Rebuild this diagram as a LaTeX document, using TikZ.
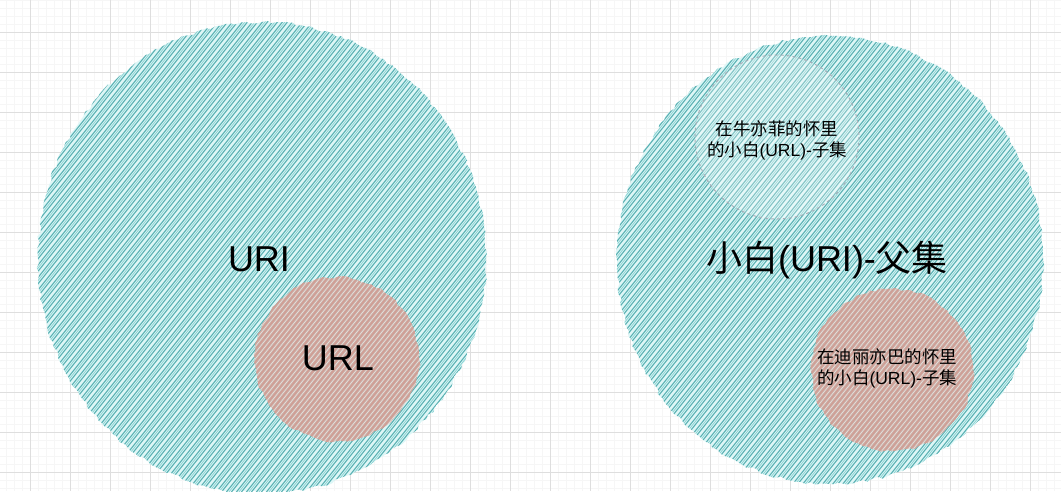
\documentclass[tikz,border=0pt]{standalone}
\usepackage{fontspec}
\usetikzlibrary{decorations.pathmorphing}
\setmainfont{Liberation Sans}
\newfontfamily\cjk{Noto Sans CJK SC}
\definecolor{gridmajor}{RGB}{222,222,222}
\definecolor{gridminor}{RGB}{246,246,246}
\definecolor{tealbg}{RGB}{222,247,247}
\definecolor{teallineA}{RGB}{88,176,178}
\definecolor{teallineB}{RGB}{140,212,212}
\definecolor{redbg}{RGB}{200,174,166}
\definecolor{redlineA}{RGB}{214,152,142}
\definecolor{redlineB}{RGB}{238,228,225}
\definecolor{dashgray}{RGB}{170,176,186}
\tikzset{
  bigtext/.style={font=\fontsize{36}{40}\selectfont, inner sep=0pt},
  smalltext/.style={font=\fontsize{17.5}{21}\selectfont, align=center, inner sep=0pt},
  rough/.style={decorate, decoration={random steps, segment length=5pt, amplitude=1.5pt}},
}
\pgfmathsetseed{7}
\begin{document}
\begin{tikzpicture}[x=1pt,y=-1pt]
\useasboundingbox (0,0) rectangle (1061,491);
\fill[white] (0,0) rectangle (1061,491);
% grid
\foreach \gx in {-2,6,...,1061} \draw[gridminor,line width=0.6pt] (\gx,0) -- (\gx,491);
\foreach \gy in {0,8,...,491} \draw[gridminor,line width=0.6pt] (0,\gy) -- (1061,\gy);
\foreach \gx in {30,70,...,1061} \draw[gridmajor,line width=0.8pt] (\gx,0) -- (\gx,491);
\foreach \gy in {32,72,...,491} \draw[gridmajor,line width=0.8pt] (0,\gy) -- (1061,\gy);

% left big blob
\begin{scope}
  \clip[rough] (262,258) ellipse [x radius=224, y radius=236];
  \fill[tealbg] (30,0) rectangle (500,491);
  \foreach \i in {30,35,...,900} \draw[teallineA,line width=1.1pt] (\i-400,500) -- (\i,0);
  \foreach \i in {32.5,42.5,...,900} \draw[teallineB,line width=0.8pt] (\i-400,500) -- (\i,0);
\end{scope}
% right big blob
\begin{scope}
  \clip[rough] (830,260) ellipse [x radius=213, y radius=224];
  \fill[tealbg] (600,0) rectangle (1061,491);
  \foreach \i in {600,605,...,1480} \draw[teallineA,line width=1.1pt] (\i-400,500) -- (\i,0);
  \foreach \i in {602.5,612.5,...,1480} \draw[teallineB,line width=0.8pt] (\i-400,500) -- (\i,0);
\end{scope}
% left red
\begin{scope}
  \clip[rough] (337,359) circle [radius=82];
  \fill[redbg] (250,270) rectangle (425,445);
  \foreach \i in {250,255,...,770} \draw[redlineA,line width=0.8pt] (\i-400,500) -- (\i,0);
  \foreach \i in {252.5,257.5,...,770} \draw[redlineB,line width=0.6pt] (\i-400,500) -- (\i,0);
\end{scope}
% right red
\begin{scope}
  \clip[rough] (892,370) circle [radius=81];
  \fill[redbg] (805,285) rectangle (980,455);
  \foreach \i in {805,810,...,1400} \draw[redlineA,line width=0.8pt] (\i-400,500) -- (\i,0);
  \foreach \i in {807.5,812.5,...,1400} \draw[redlineB,line width=0.6pt] (\i-400,500) -- (\i,0);
\end{scope}
% dashed subset
\fill[white,opacity=0.25] (777,137) circle [radius=82];
\draw[dashgray,line width=1pt,dash pattern=on 3pt off 3pt] (777,137) circle [radius=82];

% labels
\node[bigtext] (uri) at (259,259) {URI};
\node[bigtext] (url) at (338,358) {URL};
\node[bigtext] (parent) at (827,260) {{\cjk 小白}(URI)-{\cjk 父集}};
\node[smalltext] (subA) at (777,140) {{\cjk 在牛亦菲的怀里}\\{\cjk 的小白}(URL)-{\cjk 子集}};
\node[smalltext] (subB) at (887,368) {{\cjk 在迪丽亦巴的怀里}\\{\cjk 的小白}(URL)-{\cjk 子集}};
\end{tikzpicture}
\end{document}
